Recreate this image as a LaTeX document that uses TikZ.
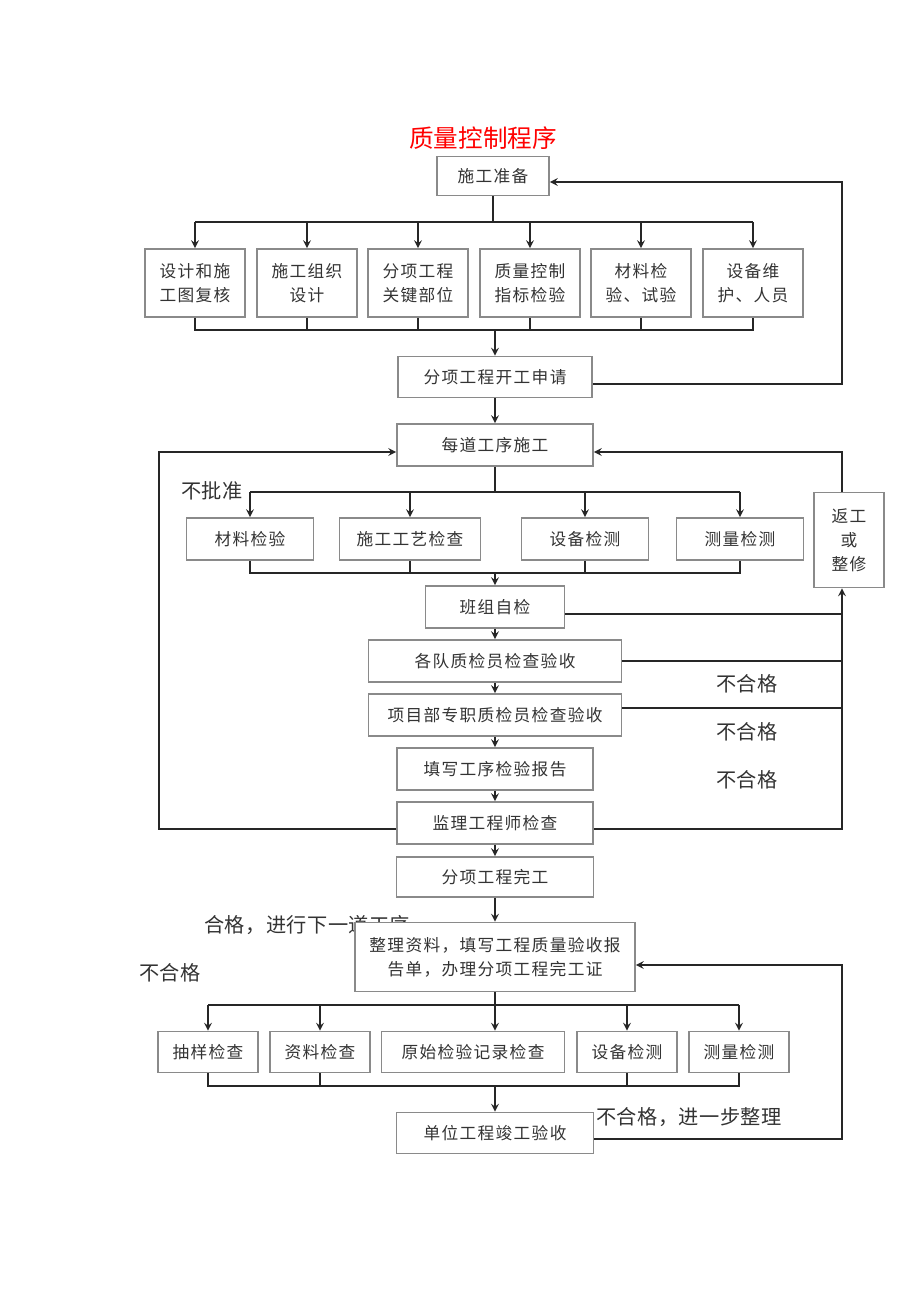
\documentclass[tikz,border=0pt]{standalone}
\usepackage{fontspec}
\setmainfont{Noto Sans CJK SC}
\usepackage{xcolor}
\definecolor{linegray}{HTML}{262626}
\definecolor{boxgray}{HTML}{8A8A8A}
\definecolor{txtgray}{HTML}{333333}
\tikzset{
  box/.style={draw=boxgray, line width=0.9pt, fill=white, text=txtgray, align=center, inner sep=0pt,
    font=\fontsize{9.5}{13.6}\selectfont\addfontfeature{LetterSpace=8}},
  lbl/.style={text=txtgray, inner sep=0pt, font=\fontsize{11.5}{14}\selectfont\addfontfeature{LetterSpace=2}},
  conn/.style={draw=linegray, line width=1pt},
}

\begin{document}
\begin{tikzpicture}[x=0.02cm, y=-0.02cm, >=stealth]
\fill[white] (0,0) rectangle (920,1301);
\useasboundingbox (0,0) rectangle (920,1301);

\coordinate (L) at (159,0);
\coordinate (Rt) at (842,0);
\coordinate (B1) at (0,222);
\coordinate (B2) at (0,330);
\coordinate (B3) at (0,492);
\coordinate (B4) at (0,573);
\coordinate (B5) at (0,1005);
\coordinate (B6) at (0,1086);

\node (title) at (483,138) [text=red, inner sep=0pt, font=\fontsize{14}{16}\selectfont] {质量控制程序};

\node (P) at (493,176) [box, minimum width=2.24cm, minimum height=0.78cm] {施工准备};
\node (S1) at (195,283) [box, minimum width=2cm, minimum height=1.36cm] {设计和施\\工图复核};
\node (S2) at (307,283) [box, minimum width=2cm, minimum height=1.36cm] {施工组织\\设计};
\node (S3) at (418,283) [box, minimum width=2cm, minimum height=1.36cm] {分项工程\\关键部位};
\node (S4) at (530,283) [box, minimum width=2cm, minimum height=1.36cm] {质量控制\\指标检验};
\node (S5) at (641,283) [box, minimum width=2cm, minimum height=1.36cm] {材料检\\验、试验};
\node (S6) at (753,283) [box, minimum width=2cm, minimum height=1.36cm] {设备维\\护、人员};
\node (A) at (495,377) [box, minimum width=3.88cm, minimum height=0.82cm] {分项工程开工申请};
\node (W) at (495,445) [box, minimum width=3.92cm, minimum height=0.84cm] {每道工序施工};

\node (C1) at (250,539) [box, minimum width=2.54cm, minimum height=0.84cm] {材料检验};
\node (C2) at (410,539) [box, minimum width=2.82cm, minimum height=0.84cm] {施工工艺检查};
\node (C3) at (585,539) [box, minimum width=2.54cm, minimum height=0.84cm] {设备检测};
\node (C4) at (740,539) [box, minimum width=2.54cm, minimum height=0.84cm] {测量检测};
\node (T) at (495,607) [box, minimum width=2.78cm, minimum height=0.84cm] {班组自检};
\node (R) at (849,540) [box, minimum width=1.4cm, minimum height=1.9cm] {返工\\或\\整修};
\node (Q1) at (495,661) [box, minimum width=5.06cm, minimum height=0.84cm] {各队质检员检查验收};
\node (Q2) at (495,715) [box, minimum width=5.06cm, minimum height=0.84cm] {项目部专职质检员检查验收};
\node (G) at (495,769) [box, minimum width=3.92cm, minimum height=0.84cm] {填写工序检验报告};
\node (H) at (495,823) [box, minimum width=3.92cm, minimum height=0.84cm] {监理工程师检查};
\node (I) at (495,877) [box, minimum width=3.94cm, minimum height=0.8cm] {分项工程完工};

% label runs under the next box
\node (ok) at (204,925) [lbl, anchor=west] {合格，进行下一道工序};
\node (J) at (495,957) [box, minimum width=5.6cm, minimum height=1.38cm] {整理资料，填写工程质量验收报\\告单，办理分项工程完工证};
\node (E1) at (208,1052) [box, minimum width=2cm, minimum height=0.82cm] {抽样检查};
\node (E2) at (320,1052) [box, minimum width=2cm, minimum height=0.82cm] {资料检查};
\node (E3) at (473,1052) [box, minimum width=3.66cm, minimum height=0.82cm] {原始检验记录检查};
\node (E4) at (627,1052) [box, minimum width=2cm, minimum height=0.82cm] {设备检测};
\node (E5) at (739,1052) [box, minimum width=2cm, minimum height=0.82cm] {测量检测};
\node (K) at (495,1133) [box, minimum width=3.94cm, minimum height=0.82cm] {单位工程竣工验收};

\node (nb) at (181,491) [lbl, anchor=west] {不批准};
\node (ng1) at (747,684) [lbl] {不合格};
\node (ng2) at (747,732) [lbl] {不合格};
\node (ng3) at (747,780) [lbl] {不合格};
\node (ng4) at (170,973) [lbl] {不合格};
\node (ng5) at (596,1117) [lbl, anchor=west] {不合格，进一步整理};

% preparation fan
\draw [conn] (P.south) -- (P.south |- B1);
\draw [conn] (S1.north |- B1) -- (S6.north |- B1);
\draw [conn,->] (S1.north |- B1) -- (S1.north);
\draw [conn,->] (S2.north |- B1) -- (S2.north);
\draw [conn,->] (S3.north |- B1) -- (S3.north);
\draw [conn,->] (S4.north |- B1) -- (S4.north);
\draw [conn,->] (S5.north |- B1) -- (S5.north);
\draw [conn,->] (S6.north |- B1) -- (S6.north);
\draw [conn] (S1.south) -- (S1.south |- B2) -- (S6.south |- B2) -- (S6.south);
\draw [conn] (S2.south) -- (S2.south |- B2);
\draw [conn] (S3.south) -- (S3.south |- B2);
\draw [conn] (S4.south) -- (S4.south |- B2);
\draw [conn] (S5.south) -- (S5.south |- B2);
\draw [conn,->] (A.north |- B2) -- (A.north);
\draw [conn,->] ([yshift=-0.14cm]A.east) -- ([yshift=-0.14cm]A.east -| Rt) |- ([yshift=-0.12cm]P.east);
\draw [conn,->] (A) -- (W);

% each step
\draw [conn] (W.south) -- (W.south |- B3);
\draw [conn] (C1.north |- B3) -- (C4.north |- B3);
\draw [conn,->] (C1.north |- B3) -- (C1.north);
\draw [conn,->] (C2.north |- B3) -- (C2.north);
\draw [conn,->] (C3.north |- B3) -- (C3.north);
\draw [conn,->] (C4.north |- B3) -- (C4.north);
\draw [conn] (C1.south) -- (C1.south |- B4) -- (C4.south |- B4) -- (C4.south);
\draw [conn] (C2.south) -- (C2.south |- B4);
\draw [conn] (C3.south) -- (C3.south |- B4);
\draw [conn,->] (T.north |- B4) -- (T.north);
\draw [conn,->] (T) -- (Q1);
\draw [conn,->] (Q1) -- (Q2);
\draw [conn,->] (Q2) -- (G);
\draw [conn,->] (G) -- (H);
\draw [conn,->] (H) -- (I);
\draw [conn,->] (I) -- (J);

% rework loops
\draw [conn] ([yshift=-0.12cm]H.east) -- ([yshift=-0.12cm]H.east -| Rt) -- (Rt |- T.east);
\draw [conn] (Q1.east) -- (Q1.east -| Rt);
\draw [conn] ([yshift=0.14cm]Q2.east) -- ([yshift=0.14cm]Q2.east -| Rt);
\draw [conn,->] ([yshift=-0.14cm]T.east) -- ([yshift=-0.14cm]T.east -| Rt) -- (Rt |- R.south);
\draw [conn,->] (Rt |- R.north) |- ([yshift=-0.14cm]W.east);
\draw [conn,->] ([yshift=-0.12cm]H.west) -- ([yshift=-0.12cm]H.west -| L) |- ([yshift=-0.14cm]W.west);

% completion
\draw [conn] (J.south) -- (J.south |- B5);
\draw [conn] (E1.north |- B5) -- (E5.north |- B5);
\draw [conn,->] (E1.north |- B5) -- (E1.north);
\draw [conn,->] (E2.north |- B5) -- (E2.north);
\draw [conn,->] (J.south |- B5) -- (J.south |- E3.north);
\draw [conn,->] (E4.north |- B5) -- (E4.north);
\draw [conn,->] (E5.north |- B5) -- (E5.north);
\draw [conn] (E1.south) -- (E1.south |- B6) -- (E5.south |- B6) -- (E5.south);
\draw [conn] (E2.south) -- (E2.south |- B6);
\draw [conn] (E4.south) -- (E4.south |- B6);
\draw [conn,->] (K.north |- B6) -- (K.north);
\draw [conn,->] ([yshift=-0.12cm]K.east) -- ([yshift=-0.12cm]K.east -| Rt) |- ([yshift=-0.16cm]J.east);

\end{tikzpicture}
\end{document}
